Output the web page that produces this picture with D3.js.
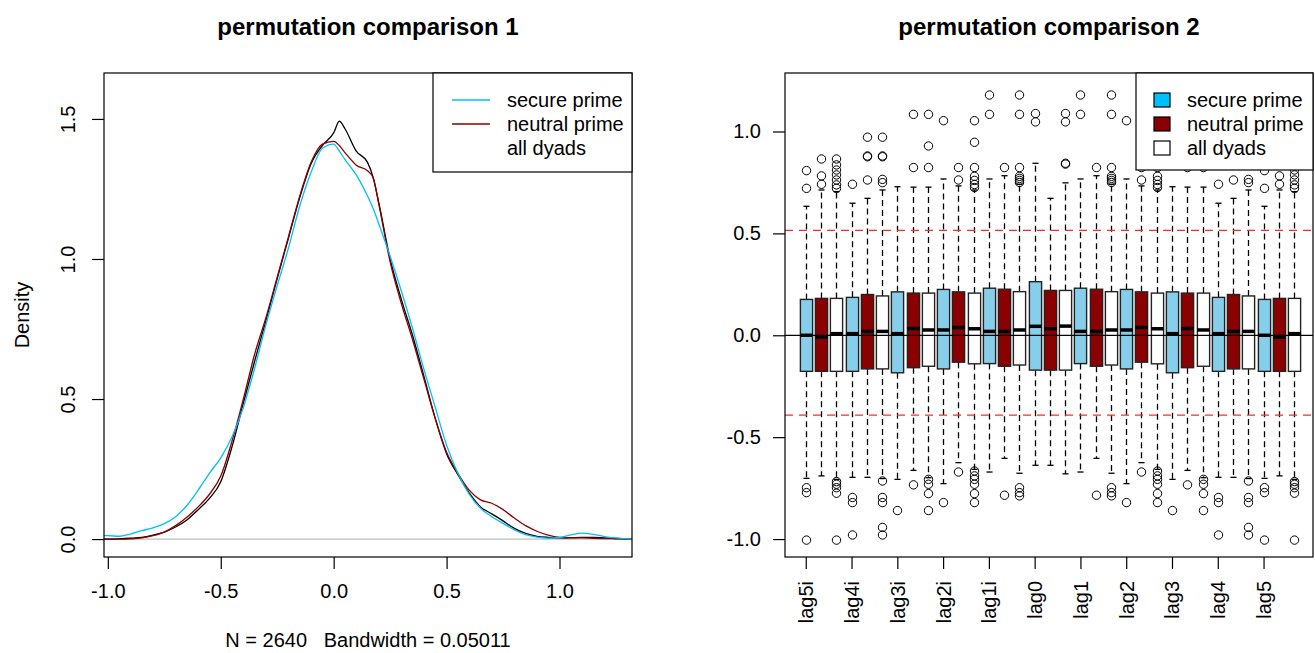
<!DOCTYPE html>
<html><head><meta charset="utf-8">
<script src="https://cdn.jsdelivr.net/npm/d3@7"></script>
<style>
body{margin:0;background:#fff;}
svg{display:block;font-family:"Liberation Sans",Arial,Helvetica,sans-serif;}
</style></head><body>
<svg id="chart" width="1315" height="653"></svg>
<script>
// ---------------- data: panel 1 (density curves) ----------------
const densX = [-1.02,-1.0,-0.95,-0.9,-0.85,-0.8,-0.75,-0.7,-0.65,-0.6,-0.55,-0.5,-0.45,-0.4,-0.35,-0.3,-0.25,-0.2,-0.15,-0.1,-0.05,0.0,0.025,0.05,0.1,0.15,0.175,0.2,0.25,0.3,0.35,0.4,0.45,0.5,0.55,0.6,0.65,0.7,0.75,0.8,0.85,0.9,0.95,1.0,1.05,1.1,1.15,1.2,1.25,1.3,1.33];
const densAll = [0.0,0.0,0.001,0.003,0.006,0.014,0.025,0.043,0.068,0.105,0.145,0.205,0.33,0.485,0.635,0.78,0.93,1.075,1.22,1.34,1.405,1.45,1.492,1.465,1.385,1.345,1.29,1.2,1.0,0.855,0.725,0.58,0.43,0.305,0.23,0.165,0.115,0.09,0.065,0.038,0.02,0.01,0.006,0.004,0.005,0.006,0.006,0.004,0.002,0.001,0.0];
const densNeutral = [0.0,0.0,0.0,0.001,0.004,0.012,0.025,0.048,0.078,0.115,0.16,0.225,0.35,0.5,0.66,0.79,0.935,1.08,1.225,1.345,1.41,1.42,1.405,1.38,1.335,1.315,1.29,1.195,0.99,0.84,0.71,0.57,0.43,0.31,0.235,0.175,0.14,0.128,0.105,0.075,0.048,0.028,0.014,0.006,0.004,0.004,0.003,0.002,0.001,0.0,0.0];
const densSecure = [0.012,0.012,0.01,0.018,0.03,0.04,0.055,0.08,0.12,0.175,0.235,0.29,0.365,0.47,0.61,0.765,0.905,1.04,1.19,1.31,1.395,1.41,1.385,1.355,1.3,1.225,1.18,1.125,1.01,0.885,0.75,0.605,0.47,0.335,0.235,0.16,0.11,0.08,0.056,0.033,0.016,0.007,0.003,0.006,0.015,0.021,0.017,0.009,0.004,0.001,0.0];
const densNames = ["secure prime","neutral prime","all dyads"];
const densXTicks = [-1.0,-0.5,0.0,0.5,1.0];
const densYTicks = [0.0,0.5,1.0,1.5];

// ---------------- data: panel 2 (boxplots) ----------------
const groups = ["lag5i","lag4i","lag3i","lag2i","lag1i","lag0","lag1","lag2","lag3","lag4","lag5"];
const conditions = ["secure prime","neutral prime","all dyads"];
// 33 boxes: for each group -> secure, neutral, all
const boxQ3 = [0.176,0.181,0.181, 0.186,0.200,0.193, 0.213,0.207,0.207, 0.225,0.213,0.207, 0.231,0.226,0.214, 0.263,0.220,0.220, 0.231,0.226,0.214, 0.225,0.213,0.207, 0.213,0.207,0.207, 0.186,0.200,0.193, 0.176,0.181,0.181];
const boxMed = [0.0,-0.009,0.008, 0.008,0.019,0.019, 0.008,0.033,0.026, 0.026,0.038,0.032, 0.019,0.019,0.026, 0.044,0.032,0.045, 0.019,0.019,0.026, 0.026,0.038,0.032, 0.008,0.033,0.026, 0.008,0.019,0.019, 0.0,-0.009,0.008];
const boxQ1 = [-0.177,-0.177,-0.177, -0.177,-0.165,-0.165, -0.184,-0.159,-0.152, -0.165,-0.132,-0.140, -0.139,-0.152,-0.146, -0.171,-0.171,-0.171, -0.139,-0.152,-0.146, -0.165,-0.132,-0.140, -0.184,-0.159,-0.152, -0.177,-0.165,-0.165, -0.177,-0.177,-0.177];
const whiskHi = [0.633,0.713,0.705, 0.648,0.672,0.713, 0.729,0.727,0.727, 0.767,0.733,0.713, 0.767,0.783,0.741, 0.844,0.672,0.748, 0.767,0.783,0.741, 0.767,0.733,0.713, 0.729,0.727,0.727, 0.648,0.672,0.713, 0.633,0.713,0.705];
const whiskLo = [-0.702,-0.690,-0.707, -0.697,-0.697,-0.703, -0.707,-0.663,-0.699, -0.728,-0.625,-0.658, -0.671,-0.604,-0.677, -0.638,-0.638,-0.680, -0.671,-0.604,-0.677, -0.728,-0.625,-0.658, -0.707,-0.663,-0.699, -0.697,-0.697,-0.703, -0.702,-0.690,-0.707];
const outliers = [
  [0.808,0.721,-0.748,-0.772,-1.005],
  [0.865,0.782,0.741],
  [0.865,0.836,0.811,0.787,0.762,0.738,0.721,-0.718,-0.731,-0.748,-0.775,-1.005],
  [0.741,-0.796,-0.821,-0.98],
  [0.972,0.880,0.876,0.762],
  [0.972,0.880,0.876,0.765,0.749,-0.715,-0.796,-0.821,-0.943,-0.98],
  [-0.86],
  [1.084,0.823,-0.734],
  [1.084,0.929,0.823,-0.707,-0.731,-0.777,-0.86],
  [1.053,-0.821],
  [0.823,0.762,-0.671],
  [1.053,0.947,0.823,0.78,0.76,0.74,0.725,-0.666,-0.690,-0.707,-0.731,-0.777,-0.821],
  [1.179,1.084],
  [0.823,-0.785],
  [1.179,1.084,0.823,0.78,0.77,0.76,0.75,-0.748,-0.772,-0.788],
  [1.088,1.047],
  [],
  [1.088,1.047,0.844,0.840],
  [1.179,1.084],
  [0.823,-0.785],
  [1.179,1.084,0.823,0.78,0.77,0.76,0.75,-0.748,-0.772,-0.788],
  [1.053,-0.821],
  [0.823,0.762,-0.671],
  [1.053,0.947,0.823,0.78,0.76,0.74,0.725,-0.666,-0.690,-0.707,-0.731,-0.777,-0.821],
  [-0.86],
  [1.084,0.823,-0.734],
  [1.084,0.929,0.823,-0.707,-0.731,-0.777,-0.86],
  [0.741,-0.796,-0.821,-0.98],
  [0.972,0.880,0.876,0.762],
  [0.972,0.880,0.876,0.765,0.749,-0.715,-0.796,-0.821,-0.943,-0.98],
  [0.808,0.721,-0.748,-0.772,-1.005],
  [0.865,0.782,0.741],
  [0.865,0.836,0.811,0.787,0.762,0.738,0.721,-0.718,-0.731,-0.748,-0.775,-1.005]
];
const refLines = [0.515,-0.392];
const boxYTicks = [-1.0,-0.5,0.0,0.5,1.0];

// ---------------- drawing ----------------
const svg = d3.select("#chart");
const FS = 20;

// ===== Panel 1 =====
const L = {x0:104, x1:632, y0:73, y1:557};
const xL = d3.scaleLinear().domain([-1.017, 1.321]).range([L.x0, L.x1]);
const yL = d3.scaleLinear().domain([-0.064, 1.664]).range([L.y1, L.y0]);
const defs = svg.append("defs");
defs.append("clipPath").attr("id","clipL").append("rect")
  .attr("x",L.x0).attr("y",L.y0).attr("width",L.x1-L.x0).attr("height",L.y1-L.y0);

const g1 = svg.append("g");
g1.append("line").attr("x1",L.x0).attr("x2",L.x1).attr("y1",yL(0)).attr("y2",yL(0))
  .attr("stroke","#bebebe").attr("stroke-width",1.3);

const densLine = d3.line().x((d,i)=>xL(densX[i])).y(d=>yL(d)).curve(d3.curveMonotoneX);
const densSeries = [
  {vals:densAll, color:"#000000"},
  {vals:densNeutral, color:"#8b0000"},
  {vals:densSecure, color:"#00bfff"}
];
const gc = g1.append("g").attr("clip-path","url(#clipL)");
densSeries.forEach(s=>{
  gc.append("path").attr("d",densLine(s.vals)).attr("fill","none")
    .attr("stroke",s.color).attr("stroke-width",1.3);
});

g1.append("rect").attr("x",L.x0).attr("y",L.y0).attr("width",L.x1-L.x0).attr("height",L.y1-L.y0)
  .attr("fill","none").attr("stroke","#000").attr("stroke-width",1.2);

const axX1 = g1.append("g").attr("transform",`translate(0,${L.y1})`)
  .call(d3.axisBottom(xL).tickValues(densXTicks).tickSize(12).tickPadding(15).tickFormat(d=>d.toFixed(1)));
axX1.select(".domain").remove();
axX1.selectAll("line").attr("stroke","#000").attr("stroke-width",1.2);
axX1.selectAll("text").attr("font-size",FS).attr("font-family","Liberation Sans, Arial, sans-serif").attr("fill","#000");

const axY1 = g1.append("g").attr("transform",`translate(${L.x0},0)`)
  .call(d3.axisLeft(yL).tickValues(densYTicks).tickSize(12).tickFormat(d=>d.toFixed(1)));
axY1.select(".domain").remove();
axY1.selectAll("line").attr("stroke","#000").attr("stroke-width",1.2);
axY1.selectAll("text").attr("font-size",FS).attr("font-family","Liberation Sans, Arial, sans-serif").attr("fill","#000")
  .attr("transform","rotate(-90)").attr("x",0).attr("y",-29).attr("dy",null).style("text-anchor","middle");

svg.append("text").attr("x",(L.x0+L.x1)/2).attr("y",35).attr("text-anchor","middle")
  .attr("font-size",24).attr("font-weight","bold").text("permutation comparison 1");
svg.append("text").attr("x",(L.x0+L.x1)/2).attr("y",647).attr("text-anchor","middle")
  .attr("font-size",FS).style("white-space","pre").text("N = 2640   Bandwidth = 0.05011");
svg.append("text").attr("transform",`translate(29,${(L.y0+L.y1)/2}) rotate(-90)`)
  .attr("text-anchor","middle").attr("font-size",FS).text("Density");

// legend 1
const lg1 = svg.append("g");
lg1.append("rect").attr("x",433).attr("y",L.y0).attr("width",L.x1-433).attr("height",99)
  .attr("fill","#fff").attr("stroke","#000").attr("stroke-width",1.2);
const lgColors1 = ["#00bfff","#8b0000",null];
densNames.forEach((n,i)=>{
  const yy = 100 + i*24;
  if (lgColors1[i]) lg1.append("line").attr("x1",452).attr("x2",490).attr("y1",yy).attr("y2",yy)
    .attr("stroke",lgColors1[i]).attr("stroke-width",1.3);
  lg1.append("text").attr("x",507).attr("y",yy).attr("dy","0.35em").attr("font-size",FS).text(n);
});

// ===== Panel 2 =====
const R = {x0:785, x1:1313, y0:73, y1:557};
const xR = d3.scaleLinear().domain([-0.36, 34.24]).range([R.x0, R.x1]);
const yR = d3.scaleLinear().domain([-1.088, 1.287]).range([R.y1, R.y0]);
const bw = xR(0.8) - xR(0);
const fills = ["#87ceeb","#8b0000","#ffffff"];
const g2 = svg.append("g");

boxQ3.forEach((q3,i)=>{
  const cx = Math.round(xR(i+1)) + 0.5;
  const gb = g2.append("g");
  gb.append("line").attr("x1",cx).attr("x2",cx).attr("y1",yR(q3)).attr("y2",yR(whiskHi[i]))
    .attr("stroke","#000").attr("stroke-width",1.3).attr("stroke-dasharray","6,4");
  gb.append("line").attr("x1",cx).attr("x2",cx).attr("y1",yR(boxQ1[i])).attr("y2",yR(whiskLo[i]))
    .attr("stroke","#000").attr("stroke-width",1.3).attr("stroke-dasharray","6,4");
  [whiskHi[i], whiskLo[i]].forEach(v=>{
    gb.append("line").attr("x1",cx-bw/4).attr("x2",cx+bw/4).attr("y1",yR(v)).attr("y2",yR(v))
      .attr("stroke","#000").attr("stroke-width",1.3);
  });
  gb.append("rect").attr("x",cx-bw/2).attr("y",yR(q3)).attr("width",bw).attr("height",yR(boxQ1[i])-yR(q3))
    .attr("fill",fills[i%3]).attr("stroke","#222").attr("stroke-width",1.4);
  gb.append("line").attr("x1",cx-bw/2).attr("x2",cx+bw/2).attr("y1",yR(boxMed[i])).attr("y2",yR(boxMed[i]))
    .attr("stroke","#000").attr("stroke-width",3.5);
  outliers[i].forEach(v=>{
    gb.append("circle").attr("cx",cx).attr("cy",yR(v)).attr("r",4.2)
      .attr("fill","none").attr("stroke","#000").attr("stroke-width",1);
  });
});

g2.append("line").attr("x1",R.x0).attr("x2",R.x1).attr("y1",yR(0)).attr("y2",yR(0))
  .attr("stroke","#000").attr("stroke-width",1.3);
refLines.forEach(v=>{
  g2.append("line").attr("x1",R.x0).attr("x2",R.x1).attr("y1",yR(v)).attr("y2",yR(v))
    .attr("stroke","#ff2a2a").attr("stroke-width",1.3).attr("stroke-dasharray","8,6");
});

g2.append("rect").attr("x",R.x0).attr("y",R.y0).attr("width",R.x1-R.x0).attr("height",R.y1-R.y0)
  .attr("fill","none").attr("stroke","#000").attr("stroke-width",1.2);

const groupPos = groups.map((gname,k)=>k*3+1);
const axX2 = g2.append("g").attr("transform",`translate(0,${R.y1})`)
  .call(d3.axisBottom(xR).tickValues(groupPos).tickSize(12).tickFormat((d,k)=>groups[k]));
axX2.select(".domain").remove();
axX2.selectAll("line").attr("stroke","#000").attr("stroke-width",1.2);
axX2.selectAll("text").attr("font-size",FS).attr("font-family","Liberation Sans, Arial, sans-serif").attr("fill","#000")
  .attr("transform","rotate(-90)").attr("x",-24).attr("y",0).attr("dy","0.35em").style("text-anchor","end");

const axY2 = g2.append("g").attr("transform",`translate(${R.x0},0)`)
  .call(d3.axisLeft(yR).tickValues(boxYTicks).tickSize(12).tickPadding(12).tickFormat(d=>d.toFixed(1)));
axY2.select(".domain").remove();
axY2.selectAll("line").attr("stroke","#000").attr("stroke-width",1.2);
axY2.selectAll("text").attr("font-size",FS).attr("font-family","Liberation Sans, Arial, sans-serif").attr("fill","#000");

svg.append("text").attr("x",(R.x0+R.x1)/2).attr("y",35).attr("text-anchor","middle")
  .attr("font-size",24).attr("font-weight","bold").text("permutation comparison 2");

// legend 2
const lg2 = svg.append("g");
lg2.append("rect").attr("x",1136).attr("y",R.y0).attr("width",R.x1-1136).attr("height",97)
  .attr("fill","#fff").attr("stroke","#000").attr("stroke-width",1.2);
const lgFills2 = ["#00bfff","#8b0000","#ffffff"];
conditions.forEach((n,i)=>{
  const yy = 100 + i*24;
  lg2.append("rect").attr("x",1154).attr("y",yy-7).attr("width",16).attr("height",14)
    .attr("fill",lgFills2[i]).attr("stroke","#000").attr("stroke-width",1.2);
  lg2.append("text").attr("x",1187).attr("y",yy).attr("dy","0.35em").attr("font-size",FS).text(n);
});
</script></body></html>
